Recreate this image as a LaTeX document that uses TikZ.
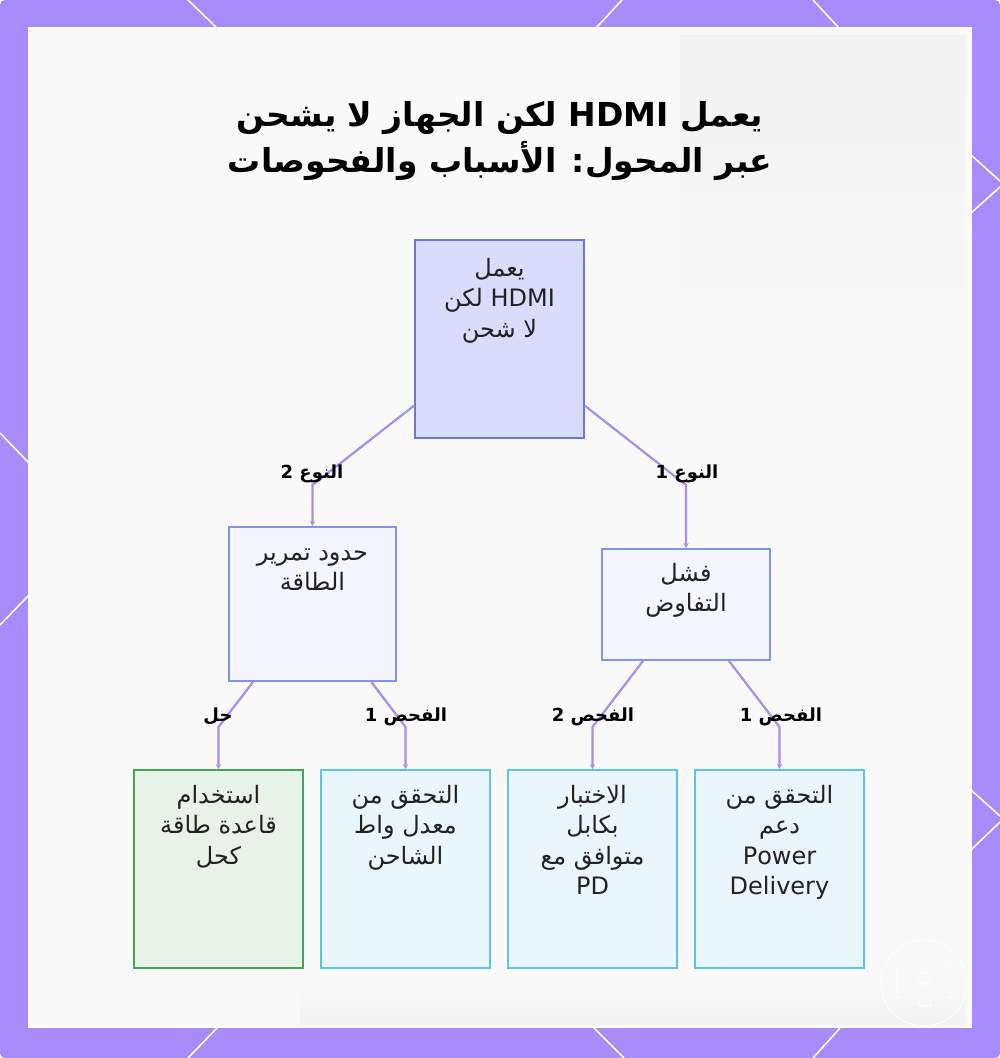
\documentclass[tikz,border=0pt]{standalone}
\usepackage{fontspec}
\setmainfont{DejaVu Sans}
\newfontfamily\arabicfont[Script=Arabic]{DejaVu Sans}
\TeXXeTstate=1
\usetikzlibrary{arrows.meta,calc}
\newcommand\arl[1]{\beginR #1\endR}
\newcommand\topstrut{\rule{0pt}{19pt}}
\definecolor{bordpurple}{HTML}{A78BFA}
\definecolor{panelbg}{HTML}{F9F9F9}
\definecolor{rootfill}{HTML}{D9DCFB}
\definecolor{rootdraw}{HTML}{6A78D6}
\definecolor{midfill}{HTML}{F4F5FD}
\definecolor{middraw}{HTML}{8094E8}
\definecolor{leaffill}{HTML}{EAF6FD}
\definecolor{leafdraw}{HTML}{5CC3EA}
\definecolor{solfill}{HTML}{E6F3E6}
\definecolor{soldraw}{HTML}{45A555}
\definecolor{edgecol}{HTML}{A88DEB}
\definecolor{textcol}{HTML}{222222}
\begin{document}
\begin{tikzpicture}[x=1pt,y=-1pt,
  box/.style={draw, line width=1.8pt, inner sep=0pt},
  rootbox/.style={box, draw=rootdraw, fill=rootfill, minimum width=169pt, minimum height=198pt},
  midbox/.style={box, draw=middraw, fill=midfill},
  leafbox/.style={box, draw=leafdraw, fill=leaffill, minimum width=169pt, minimum height=198pt},
  solbox/.style={box, draw=soldraw, fill=solfill, minimum width=169pt, minimum height=198pt},
  txt/.style={font=\arabicfont\fontsize{24}{30.5}\selectfont, align=center, inner sep=0pt, anchor=north, text=textcol},
  lab/.style={font=\arabicfont\bfseries\fontsize{18}{20}\selectfont, inner sep=0pt, anchor=base, text=black},
  ttl/.style={font=\arabicfont\bfseries\fontsize{33}{46}\selectfont, inner sep=0pt, anchor=base, text=black},
  edge/.style={draw=edgecol, line width=2.2pt, -{Stealth[length=5pt,width=5pt]}},
  deco/.style={draw=white, line width=1.6pt}
]
\useasboundingbox (0,0) rectangle (1000,1058);
\fill[white] (0,0) rectangle (1000,1058);
\fill[bordpurple, rounded corners=5pt] (0,0) rectangle (1000,1058);
% decorative white lines in the border
\draw[deco] (188,0) -- (217,28);
\draw[deco] (622,0) -- (596,28);
\draw[deco] (813,0) -- (839,28);
\draw[deco] (188,1058) -- (217,1028);
\draw[deco] (624,1058) -- (594,1028);
\draw[deco] (813,1058) -- (840,1028);
\draw[deco] (0,433) -- (29,463);
\draw[deco] (29,595) -- (0,625);
\draw[deco] (971,155) -- (1000,181);
\draw[deco] (1000,187) -- (971,213);
\draw[deco] (971,790) -- (1000,816);
\draw[deco] (1000,822) -- (971,850);
% panel
\fill[panelbg] (29,28) rectangle (971,1027);
\shade[top color=black!5, bottom color=panelbg] (680,35) rectangle (965,360);
\shade[top color=panelbg, bottom color=black!5] (300,985) rectangle (965,1024);
\draw[white, line width=1.5pt] (29,28) rectangle (971,1027);
% watermark
\draw[white, line width=0.9pt] (924,983) circle (43);
\draw[white, line width=0.9pt, rounded corners=2pt] (897,962) rectangle (952,998);
\draw[white, line width=0.9pt] (924,978) circle (6);
\draw[white, line width=0.9pt] (918,998) -- (918,1005) -- (930,1005) -- (930,998);
% title
\node[ttl] (title1) at (500,126) {\arl{يعمل \beginL HDMI\endL{} لكن الجهاز لا يشحن}};
\node[ttl] (title2) at (500,172) {\arl{عبر المحول: الأسباب والفحوصات}};
% boxes
\node[rootbox] (root) at (499.5,339) {};
\node[midbox, minimum width=167pt, minimum height=154pt] (mid2) at (312.5,604) {};
\node[midbox, minimum width=168pt, minimum height=111pt] (mid1) at (686,604.5) {};
\node[solbox] (leafA) at (218.5,869) {};
\node[leafbox] (leafB) at (405.5,869) {};
\node[leafbox] (leafC) at (592.5,869) {};
\node[leafbox] (leafD) at (779.5,869) {};
% box texts
\node[txt] (rootT) at ($(root.north)+(0,18)$) {\topstrut\arl{يعمل}\\\arl{\beginL HDMI\endL{} لكن}\\\arl{لا شحن}};
\node[txt] (mid2T) at ($(mid2.north)+(0,15)$) {\topstrut\arl{حدود تمرير}\\\arl{الطاقة}};
\node[txt] (mid1T) at ($(mid1.north)+(0,14)$) {\topstrut\arl{فشل}\\\arl{التفاوض}};
\node[txt] (leafAT) at ($(leafA.north)+(0,15)$) {\topstrut\arl{استخدام}\\\arl{قاعدة طاقة}\\\arl{كحل}};
\node[txt] (leafBT) at ($(leafB.north)+(0,15)$) {\topstrut\arl{التحقق من}\\\arl{معدل واط}\\\arl{الشاحن}};
\node[txt] (leafCT) at ($(leafC.north)+(0,15)$) {\topstrut\arl{الاختبار}\\\arl{بكابل}\\\arl{متوافق مع}\\PD};
\node[txt] (leafDT) at ($(leafD.north)+(0,15)$) {\topstrut\arl{التحقق من}\\\arl{دعم}\\Power\\Delivery};
% bends
\coordinate (b2) at (312.5,485);
\coordinate (b1) at (686,485);
\coordinate (bA) at (218.5,727);
\coordinate (bB) at (405.5,727);
\coordinate (bC) at (592.5,727);
\coordinate (bD) at (779.5,727);
% edges
\draw[edge] (root) -- (b2) -- (mid2);
\draw[edge] (root) -- (b1) -- (mid1);
\draw[edge] (mid2) -- (bA) -- (leafA);
\draw[edge] (mid2) -- (bB) -- (leafB);
\draw[edge] (mid1) -- (bC) -- (leafC);
\draw[edge] (mid1) -- (bD) -- (leafD);
% labels
\node[lab] (l2) at (312,478) {\arl{النوع 2}};
\node[lab] (l1) at (687,478) {\arl{النوع 1}};
\node[lab] (lA) at (218,721) {\arl{حل}};
\node[lab] (lB) at (406,721) {\arl{الفحص 1}};
\node[lab] (lC) at (593,721) {\arl{الفحص 2}};
\node[lab] (lD) at (781,721) {\arl{الفحص 1}};
\end{tikzpicture}
\end{document}
